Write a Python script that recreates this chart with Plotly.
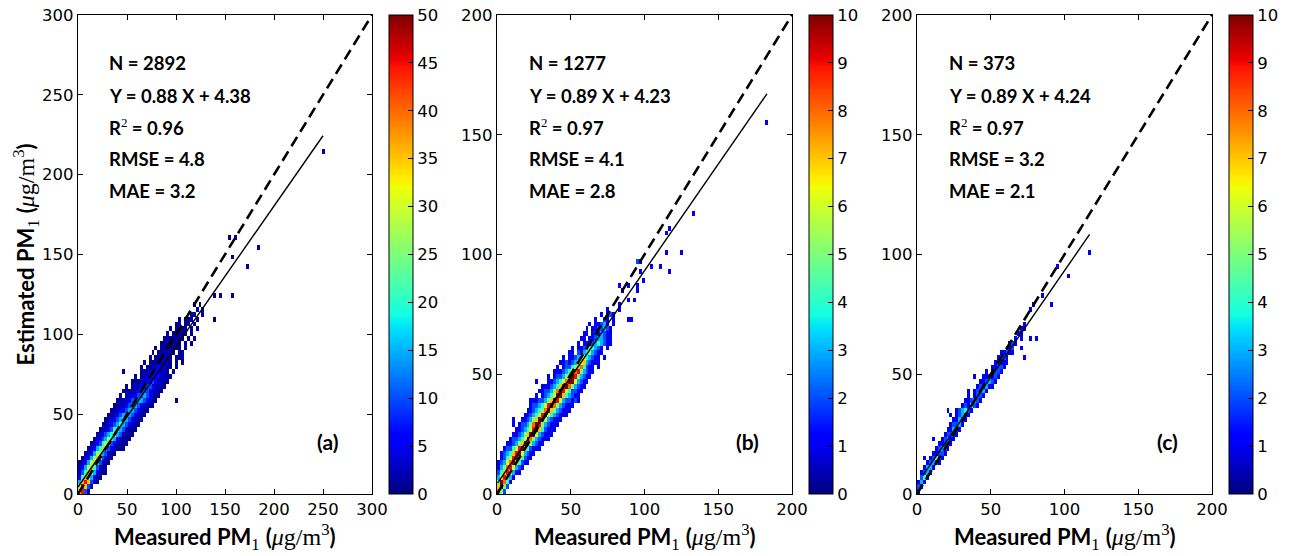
import numpy as np
import plotly.graph_objects as go

# ---- panel stats ----
labels = ["(a)", "(b)", "(c)"]
n_obs = [2892, 1277, 373]
slopes = [0.88, 0.89, 0.89]
intercepts = [4.38, 4.23, 4.24]
r2 = [0.96, 0.97, 0.97]
rmse = [4.8, 4.1, 3.2]
mae = [3.2, 2.8, 2.1]
fit_x = [[0, 250], [0.5, 183], [4, 117]]      # measured min / max -> fit line ends
axis_max = [300, 200, 200]
bin_width = [3, 2, 2]
cbar_max = [50, 10, 10]

a_ticks = [0, 50, 100, 150, 200, 250, 300]
bc_ticks = [0, 50, 100, 150, 200]
a_cbar_ticks = [0, 5, 10, 15, 20, 25, 30, 35, 40, 45, 50]
bc_cbar_ticks = [0, 1, 2, 3, 4, 5, 6, 7, 8, 9, 10]

# ---- 2D histogram cells: (row j, first column i, pattern); '.' = empty ----
# each character is an index into the panel's count levels
a_levels = [0, 1, 3, 6, 10, 15, 20, 27, 35, 45]
a_rows = [
    (39, 39, "1.1"), (38, 40, "1.1"), (37, 38, "11..1"), (36, 34, "1.111.1"),
    (35, 33, "11.11.1"), (34, 31, "1.1111.1.1"), (33, 30, "1.11111.1"),
    (32, 29, "1111111.1.1"), (31, 28, "1111111.1.1"), (30, 26, "1.1121111.1"),
    (29, 25, "1.112211.11"), (28, 24, "1.112221.111"), (27, 22, "1.11122221.1.1"),
    (26, 21, "1.112232211.1"), (25, 15, "1.....1122333221.1"), (24, 19, "1.12233332211"),
    (23, 18, "1112233432211"), (22, 16, "1.122334432211"), (21, 15, "11122344432211"),
    (20, 14, "1.223344543211"), (19, 13, "11223445543211......1"),
    (18, 12, "11223455432211"), (17, 11, "1123345543211"), (16, 10, "1123455543211"),
    (15, 9, "1223456543211"), (14, 8, "1123456543211"), (13, 7, "1223466542111"),
    (12, 6, "1234567542111"), (11, 5, "1234576532111"), (10, 4, "1234676432111"),
    (9, 3, "1235686432111"), (8, 2, "12357754211"), (7, 1, "12357864311"),
    (6, 0, "12357864211"), (5, 0, "2357864211"), (4, 0, "2468753111"),
    (3, 0, "36875311"), (2, 0, "5898421"), (1, 0, "79842"), (0, 0, "8941"),
]
a_out_x = [139, 139, 145, 156, 158, 154, 161, 173, 183, 249]
a_out_y = [110, 123, 123, 125, 149, 160, 160, 142, 155, 215]

b_levels = [0, 1, 2, 3, 4, 5, 6, 7, 8, 9, 10, 12]
b_rows = [
    (38, 37, "1...1"), (37, 35, "1.121"), (36, 33, "1..21.1....11"), (35, 31, "1.11231.1"),
    (34, 30, "1.1122321"), (33, 29, "11.1213211"), (32, 28, "11.11233211"),
    (31, 27, "1.1112343211"), (30, 25, "1.112344321.1"), (29, 24, "11.213453211"),
    (28, 22, "1.11234643211.1"), (27, 21, "11212356732111"), (26, 20, "1.12245784211.1"),
    (25, 19, "11123468953211"), (24, 17, "1.122357a953211"), (23, 13, "1...1123468ab63211"),
    (22, 15, "11123479b853211"), (21, 14, "1122358a9642211"), (20, 13, "1.12346ab743211"),
    (19, 11, "11122357b96322121"), (18, 11, "1223469a8532111"), (17, 10, "1123458b7532111"),
    (16, 9, "1123469a6432111"), (15, 5, "1..112357a8632111"), (14, 5, "1.122358b9532111"),
    (13, 6, "1123469a742111"), (12, 5, "112357a9632111"), (11, 4, "122346b8532111"),
    (10, 3, "112357a953211"), (9, 2, "122469a742111"), (8, 1, "123479a63211"),
    (7, 1, "12469a74211"), (6, 0, "12368a74211"), (5, 0, "135896321"),
    (4, 0, "24796311"), (3, 0, "369531"), (2, 0, "4a841"), (1, 0, "7a52"), (0, 0, "852"),
]
b_out_x = [82.5, 85, 83, 88, 89, 93.4, 94, 94, 94, 95.5, 97, 97, 99, 104.8, 111.6,
           117, 115.4, 124.5, 114, 117, 132, 183]
b_out_y = [78.2, 84.5, 87.7, 86.3, 81.7, 81.7, 84.5, 87.7, 96, 97.7, 97.7, 92.4, 89.4,
           94.4, 94.4, 92.6, 100.5, 100.5, 108.4, 110, 116.5, 155]

c_levels = [0, 1, 2, 3, 4, 5, 6, 7, 8, 9, 10, 12]
c_rows = [
    (35, 36, "1"), (34, 35, "11"), (33, 34, "11"), (32, 33, "1.1..1.1"), (31, 31, "121"),
    (30, 30, "112..1"), (29, 28, "11211"), (28, 27, "1221.....1"), (27, 26, "12111"),
    (26, 25, "11221"), (25, 23, "1.1221"), (24, 19, "1..112121"), (23, 21, "112321"),
    (22, 20, "121311"), (21, 17, "1.12231"), (20, 17, "1.1221"), (19, 16, "112321"),
    (18, 15, "121421"), (17, 10, "1..123421"), (16, 11, "1.12321"), (15, 12, "11321"),
    (14, 11, "12231"), (13, 10, "11321"), (12, 9, "12221"), (11, 5, "1..12311"),
    (10, 7, "11231"), (9, 6, "12321"), (8, 5, "11221"), (7, 2, "1.12521"),
    (6, 3, "12321"), (5, 2, "1331"), (4, 1, "1231"), (3, 1, "241"), (2, 0, "131"),
    (1, 0, "21"), (0, 0, "1"),
]
c_out_x = [77.5, 79.5, 85, 90, 94.5, 102, 117]
c_out_y = [77, 78.5, 83, 79, 95.5, 90.5, 100]

# matplotlib "jet"
JET = [[0.0, "rgb(0,0,127)"], [0.11, "rgb(0,0,255)"], [0.125, "rgb(0,0,255)"],
       [0.34, "rgb(0,219,255)"], [0.35, "rgb(0,229,247)"], [0.375, "rgb(20,255,226)"],
       [0.64, "rgb(239,255,8)"], [0.65, "rgb(247,245,0)"], [0.66, "rgb(255,236,0)"],
       [0.89, "rgb(255,19,0)"], [0.91, "rgb(232,0,0)"], [1.0, "rgb(127,0,0)"]]

# page layout in pixels (body margin is removed in the page, see write_html)
W, H = 1290, 556
X_DOM = [(78, 372), (497, 792), (917, 1212)]
CB_LEFT = [389, 809, 1229]
Y_TOP, Y_BOT = 15, 494

SANS = "Lato"
TICKF = dict(family="DejaVu Sans", size=16.5, color="black")
SERIF = "Liberation Serif"


def build_grid(rows, levels, out_x, out_y, bw, nb=100):
    z = np.full((nb, nb), np.nan)
    for j, i0, pat in rows:
        for k, ch in enumerate(pat):
            if ch != ".":
                z[j, i0 + k] = levels[int(ch, 16)]
    for x, y in zip(out_x, out_y):
        i, j = int(x // bw), int(y // bw)
        z[j, i] = 1 if np.isnan(z[j, i]) else z[j, i] + 1
    return [[None if np.isnan(v) else v for v in row] for row in z]


grids = [
    build_grid(a_rows, a_levels, a_out_x, a_out_y, bin_width[0]),
    build_grid(b_rows, b_levels, b_out_x, b_out_y, bin_width[1]),
    build_grid(c_rows, c_levels, c_out_x, c_out_y, bin_width[2]),
]
cbar_ticks = [a_cbar_ticks, bc_cbar_ticks, bc_cbar_ticks]
axis_ticks = [a_ticks, bc_ticks, bc_ticks]

fig = go.Figure()
y_dom = [(H - Y_BOT) / H, (H - Y_TOP) / H]

unit = (f'<b>(</b><span style="font-family:{SERIF};font-size:24px"><i>μ</i>g/m'
        f'<sup>3</sup></span><b>)</b>')
sub1 = f'<span style="font-family:{SERIF};font-size:24px"><sub>1</sub> </span>'

for p in range(3):
    sfx = "" if p == 0 else str(p + 1)
    xa, ya = "x" + sfx, "y" + sfx
    bw = bin_width[p]

    fig.add_trace(go.Heatmap(
        z=grids[p], x0=bw / 2, dx=bw, y0=bw / 2, dy=bw,
        colorscale=JET, zmin=0, zmax=cbar_max[p], hoverinfo="skip",
        xaxis=xa, yaxis=ya,
        colorbar=dict(
            x=CB_LEFT[p] / W, xanchor="left", xpad=0,
            y=y_dom[0], yanchor="bottom", ypad=0,
            len=y_dom[1] - y_dom[0], lenmode="fraction",
            thickness=24, thicknessmode="pixels",
            outlinecolor="black", outlinewidth=1,
            ticks="inside", ticklen=5, tickcolor="black",
            tickvals=cbar_ticks[p], tickfont=TICKF, ticklabeloverflow="allow",
        ),
    ))
    # 1:1 line
    fig.add_trace(go.Scatter(
        x=[0, axis_max[p]], y=[0, axis_max[p]], mode="lines",
        line=dict(color="black", width=2.6, dash="11px,6px"),
        xaxis=xa, yaxis=ya, showlegend=False, hoverinfo="skip"))
    # regression line
    fx = np.array(fit_x[p], dtype=float)
    fig.add_trace(go.Scatter(
        x=fx, y=slopes[p] * fx + intercepts[p], mode="lines",
        line=dict(color="black", width=1.4),
        xaxis=xa, yaxis=ya, showlegend=False, hoverinfo="skip"))

    ax = dict(range=[0, axis_max[p]], tickvals=axis_ticks[p], showgrid=False,
              zeroline=False, showline=True, linecolor="black", linewidth=1.2,
              mirror="ticks", ticks="inside", ticklen=5, tickcolor="black",
              tickfont=TICKF, ticklabeloverflow="allow")
    fig.update_layout({
        "xaxis" + sfx: dict(ax, domain=[X_DOM[p][0] / W, X_DOM[p][1] / W], anchor=ya),
        "yaxis" + sfx: dict(ax, domain=y_dom, anchor=xa),
    })

    # stats text
    lines = [
        f"<b>N = {n_obs[p]}</b>",
        f"<b>Y = {slopes[p]:.2f} X + {intercepts[p]:.2f}</b>",
        f'<b>R</b><span style="font-family:{SERIF}"><sup>2</sup></span><b> = {r2[p]:.2f}</b>',
        f"<b>RMSE = {rmse[p]}</b>",
        f"<b>MAE = {mae[p]}</b>",
    ]
    for txt, yy in zip(lines, [0.899, 0.831, 0.767, 0.699, 0.632]):
        fig.add_annotation(text=txt, xref=xa + " domain", yref=ya + " domain",
                           x=0.1, y=yy, xanchor="left", yanchor="middle",
                           showarrow=False, font=dict(family=SANS, size=18.5, color="black"))
    fig.add_annotation(text=f"<b>{labels[p]}</b>", xref=xa + " domain", yref=ya + " domain",
                       x=0.848, y=0.109, xanchor="center", yanchor="middle",
                       showarrow=False, font=dict(family=SANS, size=21, color="black"))

    # x title
    fig.add_annotation(
        text="<b>Measured PM</b>" + sub1 + unit,
        xref=xa + " domain", yref="paper", x=0.5, y=(H - 537) / H,
        xanchor="center", yanchor="middle", showarrow=False,
        font=dict(family=SANS, size=22, color="black"))

# y title
fig.add_annotation(
    text="<b>Estimated PM</b>" + sub1 + unit,
    xref="paper", yref="y domain", x=25 / W, y=0.5, textangle=-90,
    xanchor="center", yanchor="middle", showarrow=False,
    font=dict(family=SANS, size=22, color="black"))

fig.update_layout(
    width=W, height=H,
    margin=dict(l=0, r=0, t=0, b=0, autoexpand=False),
    paper_bgcolor="white", plot_bgcolor="white",
    showlegend=False,
)

fig.write_html("out.html", config={"displayModeBar": False},
               post_script="document.body.style.margin = '0px';")
